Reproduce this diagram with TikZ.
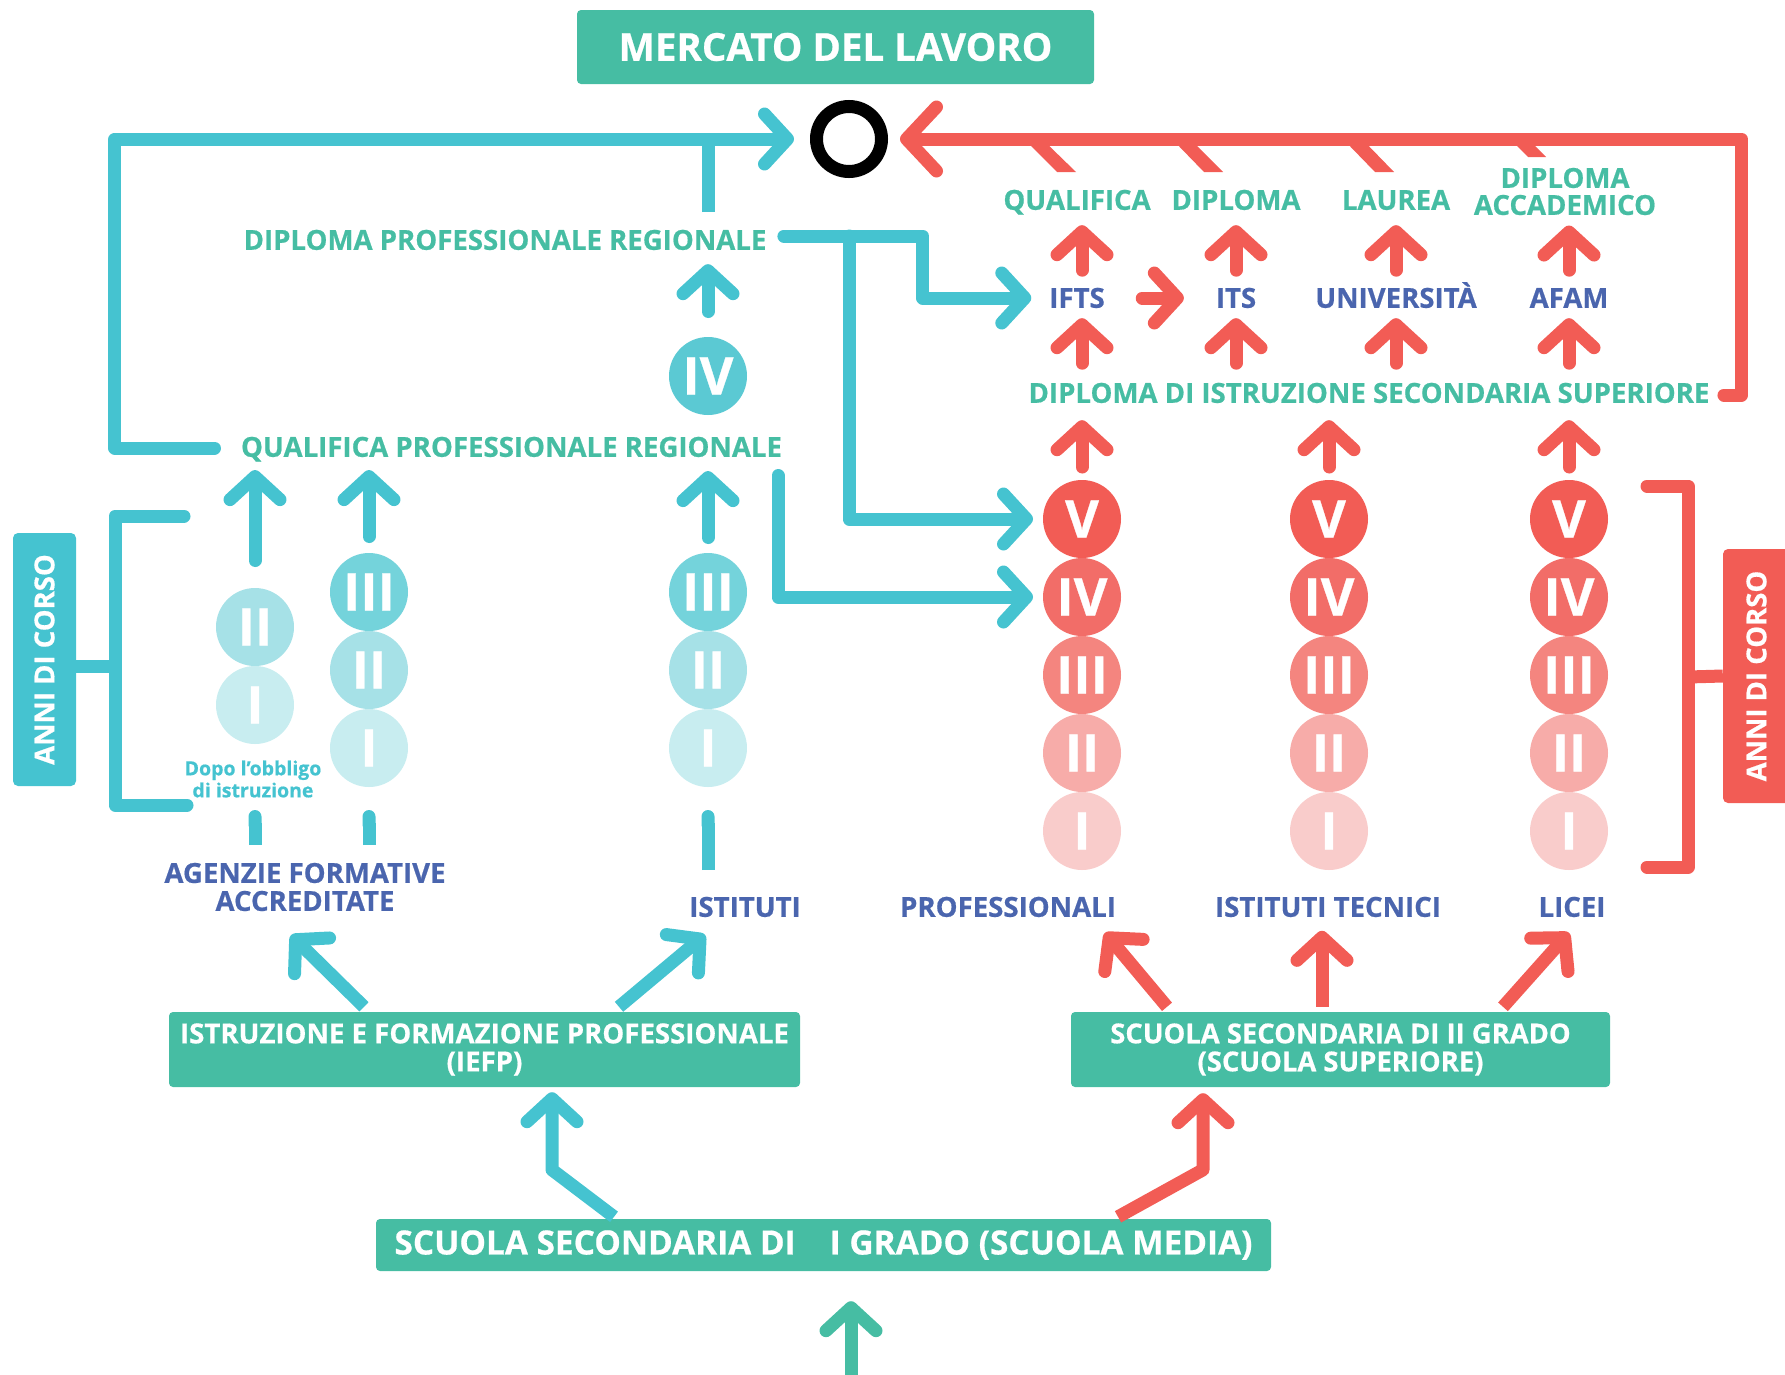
\documentclass[tikz,border=0pt]{standalone}
\usepackage{fontspec}
\setmainfont{Open Sans}[BoldFeatures={FakeBold=0.6}]
\usepackage{tikz}
\usetikzlibrary{chains, positioning, arrows.meta, calc}
\usepackage{xcolor}
\definecolor{tgreen}{HTML}{46BDA3}
\definecolor{lblue}{HTML}{45C3D0}
\definecolor{lred}{HTML}{F25C55}
\definecolor{navy}{HTML}{4A65AE}
\definecolor{bfour}{HTML}{5BC9D3}
\definecolor{bthree}{HTML}{74D3DB}
\definecolor{btwo}{HTML}{A6E1E7}
\definecolor{bone}{HTML}{C8EDF0}
\definecolor{rfive}{HTML}{F25C55}
\definecolor{rfour}{HTML}{F26D68}
\definecolor{rthree}{HTML}{F4857F}
\definecolor{rtwo}{HTML}{F7ACA9}
\definecolor{rone}{HTML}{F9CCCB}

\begin{document}
\begin{tikzpicture}[x=1pt, y=-1pt,
		>={Straight Barb[length=23pt, width=50pt, round]},
		circ/.style={
			circle,
			inner sep=0pt, outer sep=0pt,
			minimum size=78pt,
			text=white,
			font=\bfseries\fontsize{52}{52}\selectfont},
		lbl/.style={
			inner sep=0pt, outer sep=0pt,
			text=tgreen,
			font=\bfseries\fontsize{27.6}{30}\selectfont,
			text height=19.6pt, text depth=0pt},
		lblnavy/.style={lbl, text=navy},
		twoline/.style={inner sep=0pt, outer sep=0pt, align=center,
			font=\bfseries\fontsize{27.6}{28}\selectfont},
		box/.style={
			rectangle,
			rounded corners=4pt,
			fill=tgreen,
			text=white,
			inner sep=0pt,
			align=center},
		anni/.style={rectangle, rounded corners=5pt, rotate=90, text=white,
			inner sep=0pt, font=\bfseries\fontsize{27.5}{30}\selectfont},
		conn/.style={line width=13pt, line cap=round, line join=round},
		barrow/.style={conn, draw=lblue, ->},
		rarrow/.style={conn, draw=lred, ->},
		bigtip/.style={-{Straight Barb[length=30pt, width=64pt, round]}},
		bdash/.style={line width=13pt, draw=lblue, line cap=butt, -{Round Cap[]}},
		node distance=0pt,
		start chain=ca going below, start chain=cb going below,
		start chain=cc going below, start chain=cp going below,
		start chain=ct going below, start chain=cl going below]
		\useasboundingbox (0,0) rectangle (1785,1374);
		% top
		\node[box, minimum width=517pt, minimum height=74pt, font=\bfseries\fontsize{38.5}{40}\selectfont] (mercato) at (835.5,47) {MERCATO DEL LAVORO};
		\node[circle, draw=black, line width=13pt, minimum size=65pt, inner sep=0pt] (lavoro) at (849,139) {};
		% labels
		\node[lbl] (dpr) at (505,240) {DIPLOMA PROFESSIONALE REGIONALE};
		\node[lbl] (qpr) at (511.5,447) {QUALIFICA PROFESSIONALE REGIONALE};
		\node[lbl] (qual) at (1077,200) {QUALIFICA};
		\node[lbl] (dipl) at (1236,200) {DIPLOMA};
		\node[lbl] (laurea) at (1396,200) {LAUREA};
		\node[twoline, text=tgreen, font=\bfseries\fontsize{27.6}{27}\selectfont] (dacc) at (1565,191.5) {DIPLOMA\\ACCADEMICO};
		\node[lblnavy] (ifts) at (1077,298) {IFTS};
		\node[lblnavy] (its) at (1236,298) {ITS};
		\node[lblnavy] (univ) at (1396,298) {UNIVERSITÀ};
		\node[lblnavy] (afam) at (1569,298) {AFAM};
		\node[lbl] (diss) at (1369,393) {DIPLOMA DI ISTRUZIONE SECONDARIA SUPERIORE};
		\node[twoline, text=navy] (agenzie) at (305,887) {AGENZIE FORMATIVE\\ACCREDITATE};
		\node[lblnavy] (istituti) at (745,907) {ISTITUTI};
		\node[lblnavy] (prof) at (1008,907) {PROFESSIONALI};
		\node[lblnavy] (tecnici) at (1328,907) {ISTITUTI TECNICI};
		\node[lblnavy] (licei) at (1572,907) {LICEI};
		\node[inner sep=0pt, align=center, text=lblue, font=\bfseries\fontsize{19.5}{22}\selectfont] (dopo) at (253,779) {Dopo l’obbligo\\di istruzione};
		% boxes
		\node[box, minimum width=631pt, minimum height=75pt, font=\bfseries\fontsize{27.6}{28}\selectfont] (iefp) at (484.5,1049.5) {ISTRUZIONE E FORMAZIONE PROFESSIONALE\\(IEFP)};
		\node[box, minimum width=539pt, minimum height=75pt, font=\bfseries\fontsize{27.4}{28}\selectfont] (ssiig) at (1340.5,1049.5) {SCUOLA SECONDARIA DI II GRADO\\(SCUOLA SUPERIORE)};
		\node[box, minimum width=895pt, minimum height=52pt, font=\bfseries\fontsize{33.4}{36}\selectfont] (ssig) at (823.5,1245) {SCUOLA SECONDARIA DI\hspace{34pt}I GRADO (SCUOLA MEDIA)};
		\node[anni, fill=lblue, minimum width=253pt, minimum height=63pt] (anniL) at (44.5,659.5) {ANNI DI CORSO};
		\node[anni, fill=lred, minimum width=254pt, minimum height=67pt] (anniR) at (1756.5,676) {ANNI DI CORSO};
		% years, IeFP
		\node[circ, fill=btwo, on chain=ca] (aII) at (255,627) {II};
		\node[circ, fill=bone, on chain=ca] (aI) {I};
		\node[circ, fill=bthree, on chain=cb] (bIII) at (369,592) {III};
		\node[circ, fill=btwo, on chain=cb] (bII) {II};
		\node[circ, fill=bone, on chain=cb] (bI) {I};
		\node[circ, fill=bfour] (cIV) at (708,376) {IV};
		\node[circ, fill=bthree, on chain=cc] (cIII) at (708,592) {III};
		\node[circ, fill=btwo, on chain=cc] (cII) {II};
		\node[circ, fill=bone, on chain=cc] (cI) {I};
		% years, scuola superiore
		\node[circ, fill=rfive, on chain=cp] (pV) at (1082,519) {V};
		\node[circ, fill=rfour, on chain=cp] (pIV) {IV};
		\node[circ, fill=rthree, on chain=cp] (pIII) {III};
		\node[circ, fill=rtwo, on chain=cp] (pII) {II};
		\node[circ, fill=rone, on chain=cp] (pI) {I};
		\node[circ, fill=rfive, on chain=ct] (tV) at (1329,519) {V};
		\node[circ, fill=rfour, on chain=ct] (tIV) {IV};
		\node[circ, fill=rthree, on chain=ct] (tIII) {III};
		\node[circ, fill=rtwo, on chain=ct] (tII) {II};
		\node[circ, fill=rone, on chain=ct] (tI) {I};
		\node[circ, fill=rfive, on chain=cl] (lV) at (1569,519) {V};
		\node[circ, fill=rfour, on chain=cl] (lIV) {IV};
		\node[circ, fill=rthree, on chain=cl] (lIII) {III};
		\node[circ, fill=rtwo, on chain=cl] (lII) {II};
		\node[circ, fill=rone, on chain=cl] (lI) {I};
		% blue paths
		\draw[barrow] ([xshift=-26.5pt, yshift=-1pt]qpr.west) -- ++(-99.5,0) |- ([xshift=-16pt]lavoro.west);
		\draw[conn, draw=lblue, line cap=butt] ($(cIV |- dpr.north)+(0,-18)$) -- (cIV |- lavoro);
		\coordinate (dprout) at ([xshift=17.5pt, yshift=4pt]dpr.east);
		\draw[barrow] (dprout) -- ++(139,0) |- ([xshift=-18pt]ifts.west);
		\draw[barrow] (lavoro |- dprout) |- ([xshift=-10pt]pV.west);
		\draw[barrow] ([xshift=-4pt, yshift=-28.5pt]qpr.east) |- ([xshift=-10pt]pIV.west);
		\draw[barrow, shorten <=25.5pt, shorten >=14.4pt] (cIV.north) -- (cIV |- dpr.south);
		\draw[barrow, shorten <=15.5pt, shorten >=14.3pt] (cIII.north) -- (cIII |- qpr.south);
		\draw[barrow, shorten <=27.5pt, shorten >=13.3pt] (aII.north) -- (aII |- qpr.south);
		\draw[barrow, shorten <=16.5pt, shorten >=13.3pt] (bIII.north) -- (bIII |- qpr.south);
		\draw[bdash] ($(aI.south)+(0,101)$) -- ++(0,-35);
		\draw[bdash] ($(bI.south)+(0,58)$) -- ++(0,-35);
		\draw[bdash] ($(cI.south)+(0,83)$) -- ++(0,-60);
		\draw[barrow, line cap=butt] ([xshift=-120.5pt, yshift=5pt]iefp.north) -- ([xshift=-14pt, yshift=-24pt]agenzie.south);
		\draw[barrow, line cap=butt] ([xshift=134.5pt, yshift=5pt]iefp.north) -- ($(istituti.south -| cI)+(-3,18)$);
		\draw[barrow, line cap=butt] ([xshift=-209.5pt, yshift=2pt]ssig.north) -- ++(-62,-47) -- ([xshift=67.5pt, yshift=-5pt]iefp.south);
		\draw[conn, draw=tgreen, ->, line cap=butt] ([xshift=27.5pt, yshift=-110pt]ssig.south) -- ([xshift=27.5pt, yshift=-30pt]ssig.south);
		% red paths
		\draw[rarrow, line cap=butt] ([xshift=294.5pt, yshift=2pt]ssig.north) -- ++(85,-47) -- ([xshift=-137.5pt, yshift=-6pt]ssiig.south);
		\draw[rarrow, line cap=butt] ([xshift=-173.5pt, yshift=5pt]ssiig.north) -- ([xshift=97pt, yshift=-16pt]prof.south);
		\draw[rarrow, line cap=butt] ([xshift=-18.5pt, yshift=5pt]ssiig.north) -- ([xshift=-6pt, yshift=-14pt]tecnici.south);
		\draw[rarrow, line cap=butt] ([xshift=162.5pt, yshift=5pt]ssiig.north) -- ([xshift=-3pt, yshift=-16pt]licei.south);
		\draw[rarrow, shorten <=13pt, shorten >=17.4pt] (pV.north) -- (pV |- diss.south);
		\draw[rarrow, shorten <=13pt, shorten >=17.4pt] (tV.north) -- (tV |- diss.south);
		\draw[rarrow, shorten <=13pt, shorten >=17.4pt] (lV.north) -- (lV |- diss.south);
		\draw[rarrow, shorten <=20pt, shorten >=10.4pt] (pV |- diss.north) -- (pV |- ifts.south);
		\draw[rarrow, shorten <=20pt, shorten >=10.4pt] (its |- diss.north) -- (its.south);
		\draw[rarrow, shorten <=20pt, shorten >=10.4pt] (univ |- diss.north) -- (univ.south);
		\draw[rarrow, shorten <=20pt, shorten >=10.4pt] (afam |- diss.north) -- (afam.south);
		\draw[rarrow, shorten <=18pt, shorten >=15.4pt] (pV |- ifts.north) -- (pV |- qual.south);
		\draw[rarrow, shorten <=18pt, shorten >=15.4pt] (its.north) -- (its |- dipl.south);
		\draw[rarrow, shorten <=18pt, shorten >=15.4pt] (univ.north) -- (univ |- laurea.south);
		\draw[rarrow, shorten <=18pt, shorten >=10.4pt] (afam.north) -- (afam |- dacc.south);
		\draw[rarrow, shorten <=37.5pt, shorten >=32pt] (ifts.east) -- (its.west);
		\draw[rarrow, bigtip] ([xshift=14.5pt, yshift=-2pt]diss.east) -- ++(17.5,0) |- ([xshift=12pt]lavoro.east);
		\fill[lred] (1023,138) -- (1041,138) -- (1076,172) -- (1057,172) -- cycle;
		\fill[lred] (1171,138) -- (1189,138) -- (1223,172) -- (1204,172) -- cycle;
		\fill[lred] (1342,138) -- (1361,138) -- (1394,172) -- (1375,172) -- cycle;
		\fill[lred] (1509,138) -- (1527,138) -- (1546,157) -- (1528,157) -- cycle;
		% brackets
		\draw[conn, draw=lblue] (184,516) -- (115,516) -- (115,805) -- (187,805);
		\draw[conn, draw=lblue, line cap=butt] ($(anniL.south)+(0,6.5)$) -- (115,666);
		\draw[conn, draw=lred] (1647,486) -- (1688,486) -- (1688,867) -- (1647,867);
		\draw[conn, draw=lred, line cap=butt] (1688,677) -- (anniR.north);
		\end{tikzpicture}
\end{document}
